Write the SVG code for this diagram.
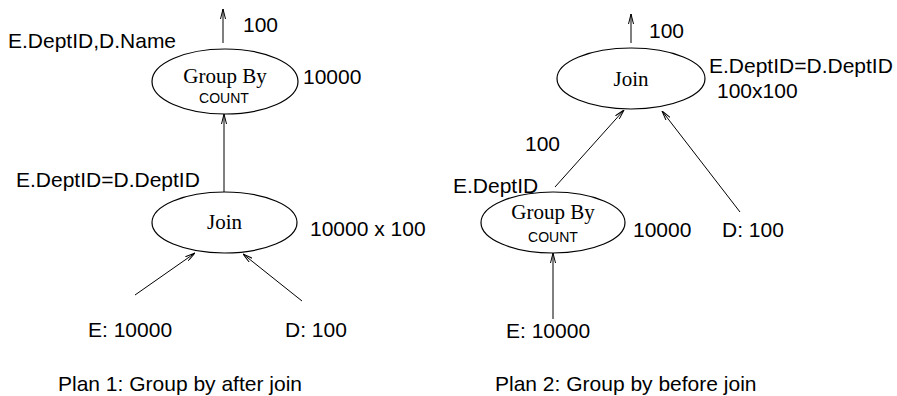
<svg xmlns="http://www.w3.org/2000/svg" width="897" height="396" viewBox="0 0 897 396">
<defs>
<marker id="ah" viewBox="0 0 10 6" refX="10" refY="3" markerWidth="10" markerHeight="6" markerUnits="userSpaceOnUse" orient="auto">
<path d="M0,0.5 L10,3 L0,5.5" fill="none" stroke="#000" stroke-width="1"/>
</marker>
<style>
.node ellipse{fill:#fff;stroke:#000;stroke-width:1.2}
.sv{font-family:"Liberation Serif","Times New Roman",serif;font-size:21px;text-anchor:middle;fill:#000}
.sm{font-family:"Liberation Sans",Arial,sans-serif;font-size:14px;text-anchor:middle;fill:#000}
.lb{font-family:"Liberation Sans",Arial,sans-serif;font-size:21px;fill:#000}
.edges line{stroke:#000;stroke-width:1;marker-end:url(#ah)}
</style>
</defs>
<rect width="897" height="396" fill="#fff"/>
<g class="edges" id="connectors">
<line x1="223" y1="43" x2="223" y2="9"/>
<line x1="224" y1="192" x2="224" y2="114"/>
<line x1="135" y1="295" x2="195" y2="253"/>
<line x1="302" y1="301" x2="243" y2="254"/>
<line x1="631" y1="43" x2="631" y2="14"/>
<line x1="555" y1="187" x2="624" y2="110"/>
<line x1="740" y1="212" x2="662" y2="111"/>
<line x1="553" y1="319" x2="553" y2="253"/>
</g>
<g class="node" id="p1-groupby">
<ellipse cx="225" cy="81.5" rx="73" ry="32.5"/>
<text class="sv" x="225" y="83">Group By</text>
<text class="sm" x="224" y="103">COUNT</text>
</g>
<g class="node" id="p1-join">
<ellipse cx="224.5" cy="222.5" rx="72.5" ry="30.5"/>
<text class="sv" x="224.5" y="229">Join</text>
</g>
<g class="node" id="p2-join">
<ellipse cx="631" cy="78.5" rx="74" ry="30.5"/>
<text class="sv" x="631" y="86">Join</text>
</g>
<g class="node" id="p2-groupby">
<ellipse cx="553" cy="222.5" rx="72" ry="30.5"/>
<text class="sv" x="553" y="219">Group By</text>
<text class="sm" x="553" y="242">COUNT</text>
</g>
<g id="labels">
<text class="lb" x="243" y="32">100</text>
<text class="lb" x="8" y="48">E.DeptID,D.Name</text>
<text class="lb" x="303" y="84">10000</text>
<text class="lb" x="16" y="187">E.DeptID=D.DeptID</text>
<text class="lb" x="310" y="236">10000 x 100</text>
<text class="lb" x="88" y="337">E: 10000</text>
<text class="lb" x="285" y="337">D: 100</text>
<text class="lb" x="58" y="391">Plan 1: Group by after join</text>
<text class="lb" x="649" y="38">100</text>
<text class="lb" x="709" y="73">E.DeptID=D.DeptID</text>
<text class="lb" x="717" y="98">100x100</text>
<text class="lb" x="525" y="151">100</text>
<text class="lb" x="453" y="193">E.DeptID</text>
<text class="lb" x="633" y="237">10000</text>
<text class="lb" x="722" y="237">D: 100</text>
<text class="lb" x="506" y="338">E: 10000</text>
<text class="lb" x="495" y="391">Plan 2: Group by before join</text>
</g>
</svg>
